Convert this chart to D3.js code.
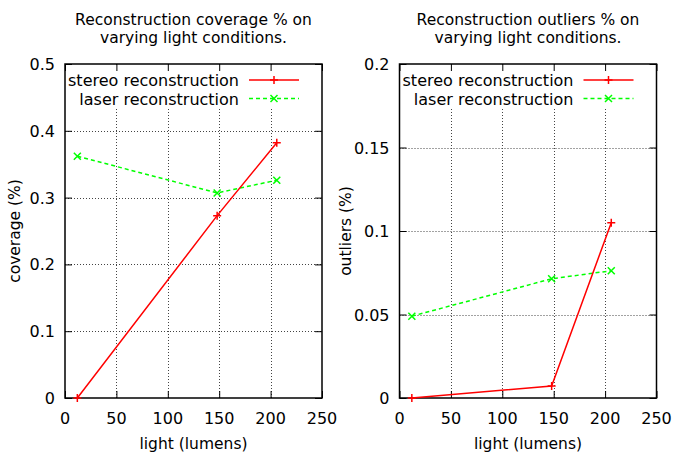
<!DOCTYPE html>
<html><head><meta charset="utf-8">
<script src="https://cdn.jsdelivr.net/npm/d3@7"></script>
<style>
body{margin:0;background:#fff;}
svg{display:block;}
text{font-family:"DejaVu Sans",sans-serif;fill:#000;}
</style></head>
<body><svg id="c" width="674" height="457"></svg>
<script>
const xTicks = [0, 50, 100, 150, 200, 250];
const lightX = [12, 148, 206];
const coverageStereo = [0, 0.273, 0.382];
const coverageLaser = [0.362, 0.307, 0.326];
const outliersStereo = [0, 0.0072, 0.105];
const outliersLaser = [0.049, 0.0714, 0.0762];
const coverageTicks = [0, 0.1, 0.2, 0.3, 0.4, 0.5];
const outliersTicks = [0, 0.05, 0.1, 0.15, 0.2];
const seriesNames = ["stereo reconstruction", "laser reconstruction"];

(function(){
const panels = [
  {title:["Reconstruction coverage % on","varying light conditions."], ylabel:"coverage (%)",
   yMax:0.5, yTicks:coverageTicks, stereo:coverageStereo, laser:coverageLaser,
   left:65, right:322, ylabX:15},
  {title:["Reconstruction outliers % on","varying light conditions."], ylabel:"outliers (%)",
   yMax:0.2, yTicks:outliersTicks, stereo:outliersStereo, laser:outliersLaser,
   left:399.5, right:656.5, ylabX:346}
];
const pTop = 64, pBottom = 398;
const svg = d3.select("#c");
const fmt = d => d === 0 ? "0" : String(+d.toFixed(3));

panels.forEach(p => {
  const g = svg.append("g");
  const x = d3.scaleLinear().domain([0,250]).range([p.left, p.right]);
  const y = d3.scaleLinear().domain([0,p.yMax]).range([pBottom, pTop]);
  const cx = (p.left+p.right)/2;

  p.title.forEach((t,i)=>{
    g.append("text").attr("x",cx).attr("y",25+i*17.5).attr("text-anchor","middle")
      .attr("font-size",15.5).text(t);
  });

  const grid = g.append("g").attr("stroke","#444").attr("stroke-width",1).attr("stroke-dasharray","1,2");
  xTicks.slice(1,-1).forEach(v=>{
    grid.append("line").attr("x1",Math.round(x(v))+0.5).attr("x2",Math.round(x(v))+0.5).attr("y1",pTop).attr("y2",pBottom);
  });
  p.yTicks.slice(1,-1).forEach(v=>{
    grid.append("line").attr("y1",Math.round(y(v))+0.5).attr("y2",Math.round(y(v))+0.5).attr("x1",p.left).attr("x2",p.right);
  });

  g.append("rect").attr("x",p.left+1).attr("y",pTop+1).attr("width",x(222)-p.left).attr("height",42).attr("fill","#fff");

  const axB = d3.axisBottom(x).tickValues(xTicks).tickSize(-7).tickFormat("");
  const axT = d3.axisTop(x).tickValues(xTicks).tickSize(-7).tickFormat("");
  const axL = d3.axisLeft(y).tickValues(p.yTicks).tickSize(-7).tickFormat("");
  const axR = d3.axisRight(y).tickValues(p.yTicks).tickSize(-7).tickFormat("");
  [[axB,`translate(0,${pBottom})`],[axT,`translate(0,${pTop})`],[axL,`translate(${p.left},0)`],[axR,`translate(${p.right},0)`]].forEach(([a,tr])=>{
    const ag = g.append("g").attr("transform",tr).call(a);
    ag.select(".domain").remove();
    ag.selectAll("line").attr("stroke","#000");
  });
  g.append("rect").attr("x",p.left).attr("y",pTop).attr("width",p.right-p.left).attr("height",pBottom-pTop)
    .attr("fill","none").attr("stroke","#000").attr("stroke-width",1.5);

  xTicks.forEach(v=>{
    g.append("text").attr("x",x(v)).attr("y",424).attr("text-anchor","middle").attr("font-size",16).text(v);
  });
  p.yTicks.forEach(v=>{
    g.append("text").attr("x",p.left-10).attr("y",y(v)+6).attr("text-anchor","end").attr("font-size",16).text(fmt(v));
  });

  g.append("text").attr("x",cx).attr("y",449).attr("text-anchor","middle").attr("font-size",15.5).text("light (lumens)");
  g.append("text").attr("transform",`translate(${p.ylabX+5},${(pTop+pBottom)/2}) rotate(-90)`).attr("text-anchor","middle")
    .attr("font-size",15.5).text(p.ylabel);

  const line = d3.line().x((d,i)=>x(lightX[i])).y(d=>y(d));
  g.append("path").datum(p.laser).attr("d",line).attr("fill","none").attr("stroke","#00ff00").attr("stroke-width",1.5).attr("stroke-dasharray","4,3");
  g.append("path").datum(p.stereo).attr("d",line).attr("fill","none").attr("stroke","#ff0000").attr("stroke-width",1.5);

  const plus = (sel,px,py,c)=>{ sel.append("path").attr("d",`M${px-4},${py}H${px+4}M${px},${py-4}V${py+4}`).attr("stroke",c).attr("stroke-width",1.5).attr("fill","none"); };
  const cross = (sel,px,py,c)=>{ sel.append("path").attr("d",`M${px-3.5},${py-3.5}L${px+3.5},${py+3.5}M${px-3.5},${py+3.5}L${px+3.5},${py-3.5}`).attr("stroke",c).attr("stroke-width",1.5).attr("fill","none"); };
  p.stereo.forEach((v,i)=>plus(g,x(lightX[i]),y(v),"#ff0000"));
  p.laser.forEach((v,i)=>cross(g,x(lightX[i]),y(v),"#00ff00"));

  const keyTextX = p.left + 174;
  const kx1 = p.left + 184, kx2 = p.left + 234, kxm = (kx1+kx2)/2;
  [[80,"#ff0000",null,plus],[98.5,"#00ff00","4,3",cross]].forEach(([ky,c,dash,mk],i)=>{
    g.append("text").attr("x",keyTextX).attr("y",ky+6).attr("text-anchor","end").attr("font-size",16).text(seriesNames[i]);
    const l = g.append("line").attr("x1",kx1).attr("x2",kx2).attr("y1",ky).attr("y2",ky).attr("stroke",c).attr("stroke-width",1.5);
    if(dash) l.attr("stroke-dasharray",dash);
    mk(g,kxm,ky,c);
  });
});
})();
</script></body></html>
